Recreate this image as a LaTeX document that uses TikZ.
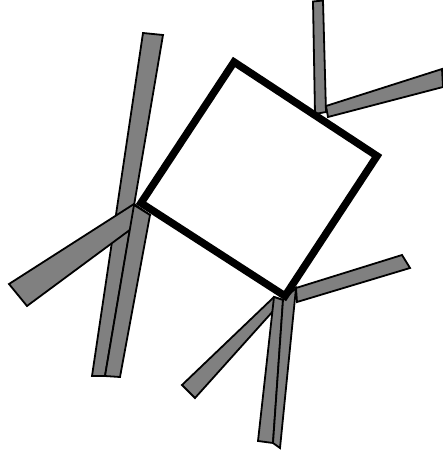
\documentclass[tikz,border=0pt]{standalone}
\usetikzlibrary{calc}
\tikzset{stick/.style={fill=gray,draw=black,line width=1.8pt},frame/.style={fill=white,draw=black,line width=7.5pt}}
\begin{document}
\begin{tikzpicture}[x=1pt,y=-1pt]
\useasboundingbox (0,0) rectangle (443,452);\clip (0,0) rectangle (443,452);
% sticks at the left corner
\draw[stick] (143,33)--(163,35)--(105,376)--(92,376)--cycle;
\draw[stick] (134,204)--(150,215)--(27,306)--(9,284)--cycle;
\draw[stick] (134,205)--(150,215)--(120,377)--(105,376)--cycle;
% sticks at the bottom corner
\draw[stick] (296,288)--(402,255)--(410,268)--(297,302)--cycle;
\draw[stick] (274,297)--(283,300)--(195,398)--(182,385)--cycle;
\draw[stick] (274,297)--(283,300)--(273,443)--(258,441)--cycle;
\draw[stick] (283,300)--(296,288)--(280,448)--(273,443)--cycle;
% sticks on the upper right side
\draw[stick] (313,1.5)--(323,0.5)--(326,112)--(315,114)--cycle;
\draw[stick] (326,106)--(442,69)--(443,87)--(328,117)--cycle;
% the square
\draw[frame] (234,62)--(377,156)--(285,296)--(141,203)--cycle;
\end{tikzpicture}
\end{document}
